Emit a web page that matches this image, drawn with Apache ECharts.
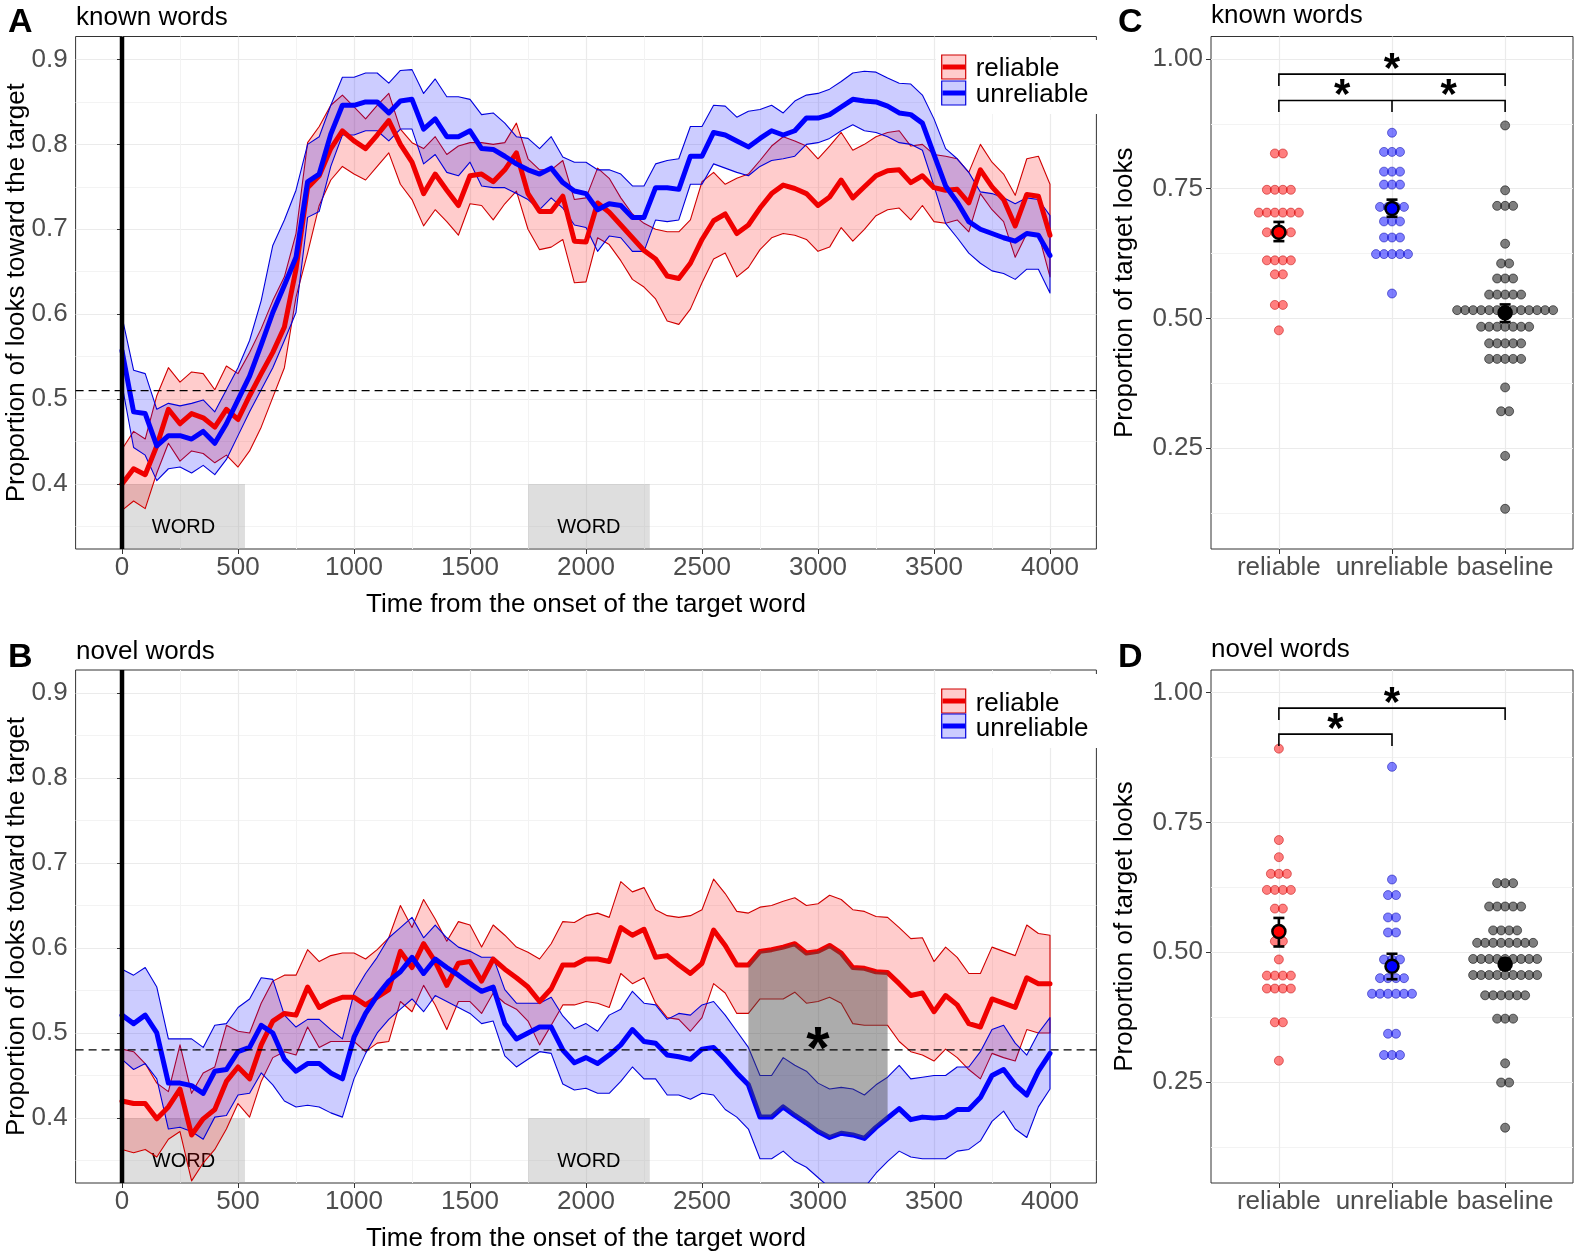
<!DOCTYPE html>
<html><head><meta charset="utf-8">
<script src="https://cdn.jsdelivr.net/npm/echarts@6/dist/echarts.min.js"></script>
<style>html,body{margin:0;padding:0;background:#fff}#c{width:1574px;height:1256px}</style>
</head><body><div id="c"></div>
<script>
// ---------------- DATA ----------------
const times = [0,50,100,150,200,250,300,350,400,450,500,550,600,650,700,750,800,850,900,950,1000,1050,1100,1150,1200,1250,1300,1350,1400,1450,1500,1550,1600,1650,1700,1750,1800,1850,1900,1950,2000,2050,2100,2150,2200,2250,2300,2350,2400,2450,2500,2550,2600,2650,2700,2750,2800,2850,2900,2950,3000,3050,3100,3150,3200,3250,3300,3350,3400,3450,3500,3550,3600,3650,3700,3750,3800,3850,3900,3950,4000];

// Panel A (known words)
const knownRelMean = [0.400,0.418,0.411,0.445,0.488,0.471,0.483,0.478,0.467,0.488,0.476,0.504,0.530,0.555,0.585,0.653,0.749,0.763,0.795,0.816,0.804,0.795,0.811,0.828,0.800,0.779,0.742,0.765,0.746,0.728,0.763,0.765,0.756,0.770,0.790,0.742,0.721,0.721,0.739,0.686,0.685,0.731,0.720,0.705,0.690,0.675,0.665,0.645,0.642,0.660,0.688,0.710,0.718,0.695,0.705,0.725,0.742,0.752,0.748,0.742,0.728,0.738,0.758,0.737,0.750,0.763,0.769,0.770,0.755,0.763,0.749,0.746,0.747,0.731,0.770,0.750,0.735,0.704,0.741,0.739,0.693];
const knownRelHi = [0.441,0.462,0.453,0.504,0.537,0.520,0.532,0.530,0.511,0.539,0.530,0.555,0.583,0.616,0.644,0.695,0.802,0.821,0.846,0.858,0.844,0.830,0.846,0.860,0.818,0.802,0.795,0.809,0.788,0.798,0.802,0.802,0.800,0.802,0.825,0.783,0.770,0.770,0.781,0.735,0.737,0.772,0.760,0.737,0.718,0.707,0.700,0.697,0.697,0.711,0.756,0.767,0.753,0.760,0.765,0.781,0.798,0.809,0.804,0.798,0.783,0.798,0.814,0.793,0.800,0.809,0.814,0.816,0.798,0.800,0.788,0.786,0.783,0.767,0.800,0.779,0.765,0.740,0.783,0.786,0.753];
const knownRelLo = [0.369,0.380,0.371,0.413,0.448,0.427,0.439,0.436,0.425,0.434,0.420,0.439,0.467,0.502,0.537,0.620,0.672,0.728,0.758,0.774,0.765,0.758,0.774,0.790,0.753,0.735,0.704,0.723,0.709,0.693,0.730,0.728,0.711,0.730,0.745,0.700,0.676,0.679,0.688,0.637,0.638,0.690,0.682,0.663,0.641,0.632,0.618,0.592,0.588,0.606,0.637,0.665,0.672,0.644,0.655,0.676,0.690,0.695,0.693,0.688,0.674,0.679,0.702,0.686,0.700,0.716,0.723,0.725,0.711,0.728,0.709,0.707,0.711,0.697,0.742,0.723,0.709,0.667,0.695,0.695,0.644];
const knownUnrMean = [0.557,0.485,0.483,0.445,0.457,0.457,0.453,0.462,0.448,0.471,0.499,0.527,0.564,0.602,0.634,0.667,0.756,0.765,0.812,0.846,0.846,0.850,0.850,0.837,0.851,0.853,0.818,0.830,0.809,0.809,0.816,0.795,0.794,0.786,0.777,0.770,0.765,0.772,0.755,0.745,0.742,0.723,0.730,0.728,0.714,0.714,0.749,0.749,0.747,0.786,0.786,0.814,0.811,0.804,0.797,0.807,0.816,0.811,0.816,0.831,0.831,0.835,0.844,0.853,0.851,0.850,0.845,0.837,0.835,0.825,0.788,0.751,0.732,0.709,0.700,0.695,0.690,0.686,0.695,0.693,0.669];
const knownUnrHi = [0.597,0.534,0.530,0.488,0.495,0.492,0.495,0.499,0.485,0.511,0.537,0.569,0.616,0.681,0.711,0.746,0.800,0.809,0.846,0.879,0.879,0.884,0.884,0.872,0.887,0.888,0.860,0.877,0.856,0.856,0.853,0.835,0.837,0.825,0.809,0.807,0.795,0.809,0.785,0.779,0.779,0.770,0.770,0.765,0.751,0.751,0.777,0.781,0.783,0.821,0.821,0.846,0.845,0.832,0.839,0.841,0.846,0.837,0.851,0.858,0.860,0.865,0.874,0.884,0.886,0.885,0.878,0.872,0.871,0.858,0.830,0.795,0.783,0.767,0.744,0.742,0.737,0.730,0.737,0.735,0.716];
const knownUnrLo = [0.517,0.443,0.434,0.404,0.418,0.420,0.413,0.422,0.411,0.429,0.457,0.485,0.511,0.537,0.569,0.602,0.714,0.721,0.774,0.811,0.811,0.816,0.816,0.804,0.818,0.818,0.777,0.788,0.767,0.763,0.779,0.751,0.749,0.749,0.742,0.735,0.723,0.737,0.725,0.705,0.702,0.674,0.692,0.690,0.674,0.674,0.711,0.709,0.711,0.753,0.753,0.777,0.772,0.767,0.763,0.774,0.781,0.783,0.786,0.800,0.802,0.807,0.816,0.823,0.816,0.814,0.809,0.802,0.800,0.793,0.751,0.707,0.690,0.672,0.660,0.651,0.648,0.641,0.653,0.653,0.625];

// Panel B (novel words)
const novelRelMean = [0.420,0.417,0.417,0.399,0.413,0.434,0.380,0.399,0.410,0.443,0.460,0.446,0.486,0.514,0.523,0.521,0.554,0.530,0.537,0.542,0.542,0.533,0.542,0.551,0.596,0.577,0.605,0.584,0.556,0.582,0.584,0.561,0.587,0.575,0.565,0.554,0.537,0.552,0.580,0.580,0.587,0.587,0.584,0.624,0.615,0.622,0.589,0.591,0.580,0.570,0.582,0.621,0.603,0.580,0.580,0.596,0.598,0.601,0.605,0.594,0.596,0.603,0.594,0.577,0.576,0.572,0.571,0.558,0.544,0.547,0.525,0.544,0.533,0.511,0.507,0.540,0.535,0.530,0.565,0.558,0.558];
const novelRelHi = [0.481,0.478,0.464,0.441,0.431,0.486,0.429,0.453,0.460,0.509,0.502,0.500,0.535,0.561,0.568,0.568,0.598,0.584,0.591,0.594,0.594,0.587,0.598,0.612,0.650,0.624,0.657,0.634,0.608,0.631,0.627,0.601,0.627,0.615,0.601,0.595,0.587,0.605,0.631,0.630,0.638,0.641,0.636,0.678,0.666,0.671,0.645,0.638,0.636,0.638,0.645,0.681,0.664,0.643,0.641,0.648,0.650,0.655,0.659,0.650,0.652,0.662,0.657,0.645,0.643,0.637,0.636,0.624,0.611,0.612,0.584,0.601,0.589,0.570,0.570,0.601,0.596,0.591,0.627,0.617,0.615];
const novelRelLo = [0.363,0.359,0.363,0.354,0.375,0.384,0.326,0.347,0.363,0.387,0.417,0.401,0.443,0.471,0.478,0.474,0.507,0.483,0.490,0.490,0.490,0.478,0.488,0.490,0.537,0.525,0.556,0.533,0.504,0.537,0.537,0.523,0.547,0.535,0.528,0.514,0.486,0.509,0.533,0.533,0.537,0.535,0.530,0.570,0.558,0.565,0.535,0.518,0.516,0.502,0.518,0.558,0.547,0.523,0.523,0.540,0.540,0.540,0.548,0.535,0.537,0.542,0.535,0.511,0.509,0.509,0.509,0.490,0.478,0.474,0.467,0.481,0.471,0.457,0.446,0.476,0.471,0.467,0.504,0.500,0.500];
const novelUnrMean = [0.521,0.511,0.521,0.500,0.441,0.441,0.438,0.429,0.455,0.457,0.478,0.483,0.509,0.500,0.469,0.455,0.464,0.464,0.453,0.446,0.495,0.523,0.544,0.561,0.572,0.589,0.570,0.587,0.577,0.568,0.558,0.549,0.554,0.511,0.493,0.500,0.507,0.507,0.480,0.465,0.471,0.464,0.474,0.486,0.504,0.490,0.488,0.474,0.472,0.469,0.481,0.483,0.469,0.453,0.439,0.401,0.401,0.413,0.403,0.394,0.384,0.377,0.382,0.380,0.376,0.389,0.400,0.411,0.398,0.401,0.400,0.401,0.410,0.410,0.424,0.450,0.457,0.439,0.427,0.455,0.476];
const novelUnrHi = [0.575,0.568,0.577,0.554,0.493,0.493,0.493,0.483,0.509,0.511,0.530,0.540,0.565,0.563,0.521,0.507,0.516,0.516,0.504,0.493,0.547,0.570,0.589,0.612,0.624,0.636,0.612,0.627,0.612,0.601,0.596,0.589,0.589,0.551,0.535,0.535,0.535,0.542,0.520,0.505,0.511,0.502,0.521,0.528,0.549,0.535,0.533,0.516,0.523,0.521,0.533,0.537,0.521,0.502,0.483,0.450,0.450,0.471,0.462,0.455,0.441,0.434,0.436,0.434,0.427,0.439,0.448,0.462,0.446,0.448,0.450,0.450,0.460,0.460,0.478,0.504,0.509,0.488,0.474,0.500,0.518];
const novelUnrLo = [0.469,0.457,0.464,0.446,0.387,0.389,0.384,0.375,0.401,0.403,0.427,0.429,0.453,0.439,0.420,0.413,0.415,0.413,0.406,0.401,0.446,0.476,0.500,0.516,0.528,0.540,0.525,0.544,0.537,0.530,0.523,0.511,0.514,0.473,0.460,0.469,0.478,0.476,0.440,0.433,0.435,0.429,0.429,0.443,0.460,0.446,0.446,0.427,0.427,0.422,0.429,0.427,0.410,0.401,0.387,0.352,0.352,0.361,0.349,0.342,0.330,0.318,0.320,0.315,0.318,0.335,0.349,0.361,0.354,0.352,0.352,0.352,0.361,0.363,0.373,0.396,0.408,0.387,0.377,0.413,0.434];

// Panels C and D (per-child proportions)
const groups = ['reliable', 'unreliable', 'baseline'];
const knownReliable = [0.818,0.818,0.748,0.748,0.748,0.748,0.704,0.704,0.704,0.704,0.704,0.704,0.666,0.666,0.666,0.666,0.612,0.612,0.612,0.612,0.585,0.585,0.526,0.526,0.477];
const knownUnreliable = [0.858,0.821,0.821,0.821,0.783,0.783,0.783,0.758,0.758,0.758,0.715,0.715,0.715,0.715,0.687,0.687,0.687,0.656,0.656,0.656,0.624,0.624,0.624,0.624,0.624,0.548];
const knownBaseline = [0.872,0.747,0.717,0.717,0.717,0.644,0.606,0.606,0.577,0.577,0.577,0.546,0.546,0.546,0.546,0.546,0.516,0.516,0.516,0.516,0.516,0.516,0.516,0.516,0.516,0.516,0.516,0.516,0.516,0.484,0.484,0.484,0.484,0.484,0.484,0.484,0.452,0.452,0.452,0.452,0.452,0.422,0.422,0.422,0.422,0.422,0.367,0.321,0.321,0.235,0.133];
const novelReliable = [0.892,0.716,0.683,0.651,0.651,0.651,0.620,0.620,0.620,0.620,0.584,0.584,0.521,0.521,0.486,0.455,0.455,0.455,0.455,0.430,0.430,0.430,0.430,0.365,0.365,0.291];
const novelUnreliable = [0.857,0.640,0.610,0.610,0.567,0.567,0.538,0.538,0.486,0.486,0.486,0.450,0.450,0.450,0.450,0.420,0.420,0.420,0.420,0.420,0.420,0.343,0.343,0.302,0.302,0.302];
const novelBaseline = [0.633,0.633,0.633,0.588,0.588,0.588,0.588,0.588,0.542,0.542,0.542,0.542,0.518,0.518,0.518,0.518,0.518,0.518,0.518,0.518,0.487,0.487,0.487,0.487,0.487,0.487,0.487,0.487,0.487,0.456,0.456,0.456,0.456,0.456,0.456,0.456,0.456,0.456,0.417,0.417,0.417,0.417,0.417,0.417,0.372,0.372,0.372,0.286,0.249,0.249,0.162];
const knownMeans = [0.666, 0.712, 0.511];
const knownSeLo = [0.649, 0.696, 0.493];
const knownSeHi = [0.686, 0.729, 0.527];
const novelMeans = [0.540, 0.473, 0.477];
const novelSeLo = [0.511, 0.448, 0.467];
const novelSeHi = [0.566, 0.497, 0.487];

// Tick labels & annotations
const xTicks = [0,500,1000,1500,2000,2500,3000,3500,4000];
const xMinor = [250,750,1250,1750,2250,2750,3250,3750];
const yTicksTS = [0.4,0.5,0.6,0.7,0.8,0.9];
const yMinorTS = [0.35,0.45,0.55,0.65,0.75,0.85];
const yTicksDot = [0.25,0.5,0.75,1.0];
const yMinorDot = [0.125,0.375,0.625,0.875];
const catTicks = [1,2,3];
const chanceKnown = 0.51, chanceNovel = 0.48;
const wordWindows = [[0, 530], [1750, 2275]];
const WORD_TOP = 0.40, WORD_LABEL_Y = 0.349;
const sigWindow = [2700, 3300];
const sigStar = [3000, 0.497];
const bracketsKnown = [[1, 3, 0.971, 0.948, 0], [1, 3, 0.920, 0.898, 2]];
const starsKnown = [[2.0, 1.0], [1.56, 0.95], [2.5, 0.95]];
const bracketsNovel = [[1, 3, 0.970, 0.947, 0], [1, 2, 0.920, 0.897, 0]];
const starsNovel = [[2.0, 0.998], [1.5, 0.949]];

// ---------------- STYLE / LAYOUT ----------------
const X_MIN = -200, X_MAX = 4200, Y_MIN = 0.3235, Y_MAX = 0.927;
const D_MIN = 0.0555, D_MAX = 1.0435, C_MIN = 0.4, C_MAX = 3.6;
const DOT_STEP = 0.0707;
const FONT = "'Liberation Sans', Arial, Helvetica, sans-serif";
const TICK_COL = '#4d4d4d';
const RED = '#f00000', BLUE = '#0000ff';
const RED_FILL = 'rgba(255,0,0,0.2)', BLUE_FILL = 'rgba(0,0,255,0.2)';
const RED_EDGE = '#d00000', BLUE_EDGE = '#0000dd';

const chart = echarts.init(document.getElementById('c'), null, {renderer: 'canvas'});

const gridBase = {show: true, borderColor: '#333333', borderWidth: 1, backgroundColor: 'transparent', containLabel: false, outerBoundsMode: 'none'};
const grids = [
  Object.assign({left: 75.6, top: 36.5, width: 1020.8, height: 512.5}, gridBase),
  Object.assign({left: 75.6, top: 670, width: 1020.8, height: 513}, gridBase),
  Object.assign({left: 1211, top: 36.5, width: 362, height: 512.5}, gridBase),
  Object.assign({left: 1211, top: 670, width: 362, height: 513}, gridBase)
];

function majorAxis(gi, min, max, ticks, fmt, name, gap, margin) {
  return {
    gridIndex: gi, type: 'value', min: min, max: max,
    axisLine: {show: false},
    axisTick: {show: true, length: 5, lineStyle: {color: '#333333', width: 1}, customValues: ticks},
    axisLabel: {customValues: ticks, formatter: fmt, fontSize: 26, color: TICK_COL, fontFamily: FONT, margin: margin},
    splitLine: {show: true, lineStyle: {color: '#ebebeb', width: 1.2}},
    minorSplitLine: {show: false},
    name: name, nameLocation: 'middle', nameGap: gap, nameMoveOverlap: false,
    nameTextStyle: {fontSize: 26, color: '#000', fontFamily: FONT}
  };
}
function minorAxis(gi, min, max, ticks, pos) {
  return {
    gridIndex: gi, type: 'value', min: min, max: max, position: pos,
    axisLine: {show: false},
    axisTick: {show: false, customValues: ticks},
    axisLabel: {show: false, customValues: ticks},
    splitLine: {show: true, lineStyle: {color: '#f3f3f3', width: 1}}
  };
}
const fmtTime = v => String(v);
const fmt1 = v => v.toFixed(1);
const fmt2 = v => v.toFixed(2);
const fmtCat = v => groups[Math.round(v) - 1] || '';
const xName = 'Time from the onset of the target word';
const yNameTS = 'Proportion of looks toward the target';
const yNameDot = 'Proportion of target looks';

const xAxes = [
  majorAxis(0, X_MIN, X_MAX, xTicks, fmtTime, xName, 43, 6),
  majorAxis(1, X_MIN, X_MAX, xTicks, fmtTime, xName, 43, 6),
  majorAxis(2, C_MIN, C_MAX, catTicks, fmtCat, '', 43, 6),
  majorAxis(3, C_MIN, C_MAX, catTicks, fmtCat, '', 43, 6),
  minorAxis(0, X_MIN, X_MAX, xMinor, 'top'),
  minorAxis(1, X_MIN, X_MAX, xMinor, 'top')
];
const yAxes = [
  majorAxis(0, Y_MIN, Y_MAX, yTicksTS, fmt1, yNameTS, 46, 8),
  majorAxis(1, Y_MIN, Y_MAX, yTicksTS, fmt1, yNameTS, 46, 8),
  majorAxis(2, D_MIN, D_MAX, yTicksDot, fmt2, yNameDot, 73, 8),
  majorAxis(3, D_MIN, D_MAX, yTicksDot, fmt2, yNameDot, 73, 8),
  minorAxis(0, Y_MIN, Y_MAX, yMinorTS, 'right'),
  minorAxis(1, Y_MIN, Y_MAX, yMinorTS, 'right'),
  minorAxis(2, D_MIN, D_MAX, yMinorDot, 'right'),
  minorAxis(3, D_MIN, D_MAX, yMinorDot, 'right')
];

// ---------------- SERIES BUILDERS ----------------
function wordSeries(ax) {
  return {
    type: 'custom', xAxisIndex: ax, yAxisIndex: ax, silent: true, clip: true, z: 1,
    data: wordWindows.map(w => [w[0], w[1]]), encode: {x: [0, 1]},
    renderItem: function (params, api) {
      const s = api.value(0), e = api.value(1);
      const p0 = api.coord([s, WORD_TOP]), p1 = api.coord([e, Y_MIN]);
      const ly = api.coord([s, WORD_LABEL_Y])[1];
      return {type: 'group', children: [
        {type: 'rect', shape: {x: p0[0], y: p0[1], width: p1[0] - p0[0], height: p1[1] - p0[1]}, style: {fill: 'rgba(160,160,160,0.35)'}},
        {type: 'text', style: {text: 'WORD', x: (p0[0] + p1[0]) / 2, y: ly, align: 'center', verticalAlign: 'middle', fontSize: 20, fontFamily: FONT, fill: '#000'}}
      ]};
    }
  };
}
function ribbonSeries(ax, lo, hi, fill, stroke) {
  return {
    type: 'custom', xAxisIndex: ax, yAxisIndex: ax, silent: true, clip: true, z: 2,
    data: [[times[0], lo[0]]], encode: {x: 0, y: 1},
    renderItem: function (params, api) {
      const pts = [];
      for (let i = 0; i < times.length; i++) pts.push(api.coord([times[i], hi[i]]));
      for (let i = times.length - 1; i >= 0; i--) pts.push(api.coord([times[i], lo[i]]));
      return {type: 'polygon', shape: {points: pts}, style: {fill: fill, stroke: stroke, lineWidth: 1.1, lineJoin: 'round'}};
    }
  };
}
function meanLine(ax, vals, color) {
  return {
    type: 'line', xAxisIndex: ax, yAxisIndex: ax, silent: true, z: 2,
    data: times.map((t, i) => [t, vals[i]]), symbol: 'none', showSymbol: false,
    lineStyle: {color: color, width: 5, join: 'round', cap: 'round'}
  };
}
function sigSeries(ax, top, bottom) {
  return {
    type: 'custom', xAxisIndex: ax, yAxisIndex: ax, silent: true, clip: true, z: 3,
    data: [[sigWindow[0], top[0]]], encode: {x: 0, y: 1},
    renderItem: function (params, api) {
      const idx = [];
      times.forEach((t, i) => { if (t >= sigWindow[0] && t <= sigWindow[1]) idx.push(i); });
      const pts = [];
      idx.forEach(i => pts.push(api.coord([times[i], top[i]])));
      idx.slice().reverse().forEach(i => pts.push(api.coord([times[i], bottom[i]])));
      const sp = api.coord(sigStar);
      return {type: 'group', children: [
        {type: 'polygon', shape: {points: pts}, style: {fill: 'rgba(70,70,70,0.45)'}},
        {type: 'text', style: {text: '*', x: sp[0], y: sp[1] + 16, align: 'center', verticalAlign: 'middle', fontSize: 60, fontWeight: 'bold', fontFamily: FONT, fill: '#000'}}
      ]};
    }
  };
}
function refSeries(ax, chance) {
  return {
    type: 'custom', xAxisIndex: ax, yAxisIndex: ax, silent: true, clip: true, z: 4,
    data: [[0, chance]], encode: {x: 0, y: 1},
    renderItem: function (params, api) {
      const a = api.coord([X_MIN, chance]), b = api.coord([X_MAX, chance]);
      const v0 = api.coord([0, Y_MIN]), v1 = api.coord([0, Y_MAX]);
      return {type: 'group', children: [
        {type: 'line', shape: {x1: a[0], y1: a[1], x2: b[0], y2: b[1]}, style: {stroke: '#000', lineWidth: 1.2, lineDash: [8, 5]}},
        {type: 'line', shape: {x1: v0[0], y1: v0[1], x2: v1[0], y2: v1[1]}, style: {stroke: '#000', lineWidth: 4.5}}
      ]};
    }
  };
}
function dotSeries(ax, vals, cat, fill, stroke) {
  const counts = new Map();
  vals.forEach(v => counts.set(v, (counts.get(v) || 0) + 1));
  const pts = [];
  counts.forEach((n, v) => { for (let j = 0; j < n; j++) pts.push([cat + (j - (n - 1) / 2) * DOT_STEP, v]); });
  return {
    type: 'scatter', xAxisIndex: ax, yAxisIndex: ax, silent: true, z: 2,
    data: pts, symbol: 'circle', symbolSize: 9,
    itemStyle: {color: fill, borderColor: stroke, borderWidth: 1, opacity: 1}
  };
}
function errSeries(ax, lo, hi) {
  return {
    type: 'custom', xAxisIndex: ax, yAxisIndex: ax, silent: true, z: 3,
    data: lo.map((l, i) => [i + 1, l, hi[i]]), encode: {x: 0, y: [1, 2]},
    renderItem: function (params, api) {
      const x = api.value(0);
      const a = api.coord([x, api.value(1)]), b = api.coord([x, api.value(2)]);
      const w = 5.5, st = {stroke: '#000', lineWidth: 2.6};
      return {type: 'group', children: [
        {type: 'line', shape: {x1: a[0], y1: a[1], x2: b[0], y2: b[1]}, style: st},
        {type: 'line', shape: {x1: a[0] - w, y1: a[1], x2: a[0] + w, y2: a[1]}, style: st},
        {type: 'line', shape: {x1: b[0] - w, y1: b[1], x2: b[0] + w, y2: b[1]}, style: st}
      ]};
    }
  };
}
function meanSeries(ax, means) {
  const cols = ['#ff0000', '#0000ff', '#000000'];
  return {
    type: 'scatter', xAxisIndex: ax, yAxisIndex: ax, silent: true, z: 4,
    data: means.map((m, i) => ({value: [i + 1, m], itemStyle: {color: cols[i]}})),
    symbol: 'circle', symbolSize: 13,
    itemStyle: {borderColor: '#000', borderWidth: 2.5, opacity: 1}
  };
}
function bracketSeries(ax, brackets) {
  return {
    type: 'custom', xAxisIndex: ax, yAxisIndex: ax, silent: true, z: 4,
    data: brackets, encode: {x: [0, 1], y: [2, 3]},
    renderItem: function (params, api) {
      const x1 = api.value(0), x2 = api.value(1), y = api.value(2), yd = api.value(3), mid = api.value(4);
      const st = {stroke: '#000', lineWidth: 1.6, fill: null};
      const ch = [{type: 'polyline', shape: {points: [api.coord([x1, yd]), api.coord([x1, y]), api.coord([x2, y]), api.coord([x2, yd])]}, style: st}];
      if (mid) {
        const m1 = api.coord([mid, y]), m2 = api.coord([mid, yd]);
        ch.push({type: 'line', shape: {x1: m1[0], y1: m1[1], x2: m2[0], y2: m2[1]}, style: st});
      }
      return {type: 'group', children: ch};
    }
  };
}
function starSeries(ax, stars) {
  return {
    type: 'custom', xAxisIndex: ax, yAxisIndex: ax, silent: true, z: 4,
    data: stars, encode: {x: 0, y: 1},
    renderItem: function (params, api) {
      const p = api.coord([api.value(0), api.value(1)]);
      return {type: 'text', style: {text: '*', x: p[0], y: p[1] + 11, align: 'center', verticalAlign: 'middle', fontSize: 42, fontWeight: 'bold', fontFamily: FONT, fill: '#000'}};
    }
  };
}

const series = [
  wordSeries(0),
  ribbonSeries(0, knownRelLo, knownRelHi, RED_FILL, RED_EDGE),
  meanLine(0, knownRelMean, RED),
  ribbonSeries(0, knownUnrLo, knownUnrHi, BLUE_FILL, BLUE_EDGE),
  meanLine(0, knownUnrMean, BLUE),
  refSeries(0, chanceKnown),

  wordSeries(1),
  ribbonSeries(1, novelRelLo, novelRelHi, RED_FILL, RED_EDGE),
  meanLine(1, novelRelMean, RED),
  ribbonSeries(1, novelUnrLo, novelUnrHi, BLUE_FILL, BLUE_EDGE),
  meanLine(1, novelUnrMean, BLUE),
  sigSeries(1, novelRelMean, novelUnrMean),
  refSeries(1, chanceNovel),

  dotSeries(2, knownReliable, 1, 'rgba(255,0,0,0.5)', 'rgba(190,0,0,0.5)'),
  dotSeries(2, knownUnreliable, 2, 'rgba(0,0,255,0.5)', 'rgba(0,0,170,0.5)'),
  dotSeries(2, knownBaseline, 3, 'rgba(40,40,40,0.6)', 'rgba(0,0,0,0.55)'),
  errSeries(2, knownSeLo, knownSeHi),
  meanSeries(2, knownMeans),
  bracketSeries(2, bracketsKnown),
  starSeries(2, starsKnown),

  dotSeries(3, novelReliable, 1, 'rgba(255,0,0,0.5)', 'rgba(190,0,0,0.5)'),
  dotSeries(3, novelUnreliable, 2, 'rgba(0,0,255,0.5)', 'rgba(0,0,170,0.5)'),
  dotSeries(3, novelBaseline, 3, 'rgba(40,40,40,0.6)', 'rgba(0,0,0,0.55)'),
  errSeries(3, novelSeLo, novelSeHi),
  meanSeries(3, novelMeans),
  bracketSeries(3, bracketsNovel),
  starSeries(3, starsNovel)
];

// ---------------- TEXT / LEGEND GRAPHICS ----------------
function txt(x, y, s, size, weight) {
  return {type: 'text', x: x, y: y, z: 100, silent: true,
    style: {text: s, fontSize: size, fontWeight: weight || 'normal', fontFamily: FONT, fill: '#000',
      align: 'left', verticalAlign: 'middle', textAlign: 'left', textVerticalAlign: 'middle'}};
}
function legend(keyY0, keyY1, textY0, textY1, bgTop) {
  const els = [
    {type: 'rect', z: 100, silent: true, shape: {x: 936, y: bgTop, width: 163, height: 74}, style: {fill: '#ffffff'}}
  ];
  [[keyY0, RED_FILL, RED_EDGE, RED], [keyY1, BLUE_FILL, BLUE_EDGE, BLUE]].forEach(k => {
    els.push({type: 'rect', z: 101, silent: true, shape: {x: 941.7, y: k[0] - 12, width: 24, height: 24}, style: {fill: k[1], stroke: k[2], lineWidth: 1.2}});
    els.push({type: 'line', z: 102, silent: true, shape: {x1: 942.5, y1: k[0], x2: 965, y2: k[0]}, style: {stroke: k[3], lineWidth: 5}});
  });
  els.push(txt(975.7, textY0, 'reliable', 26));
  els.push(txt(975.7, textY1, 'unreliable', 26));
  return els;
}
const graphics = [].concat(
  [txt(8, 23, 'A', 34, 'bold'), txt(76, 18, 'known words', 26),
   txt(1118, 23, 'C', 34, 'bold'), txt(1211, 16, 'known words', 26),
   txt(8, 658, 'B', 34, 'bold'), txt(76, 652, 'novel words', 26),
   txt(1118, 658, 'D', 34, 'bold'), txt(1211, 650, 'novel words', 26)],
  legend(67, 93, 69, 94.5, 40),
  legend(701, 726, 704, 729, 674)
);

chart.setOption({
  animation: false,
  backgroundColor: '#ffffff',
  textStyle: {fontFamily: FONT},
  grid: grids,
  xAxis: xAxes,
  yAxis: yAxes,
  series: series,
  graphic: graphics
});
</script>
</body></html>
